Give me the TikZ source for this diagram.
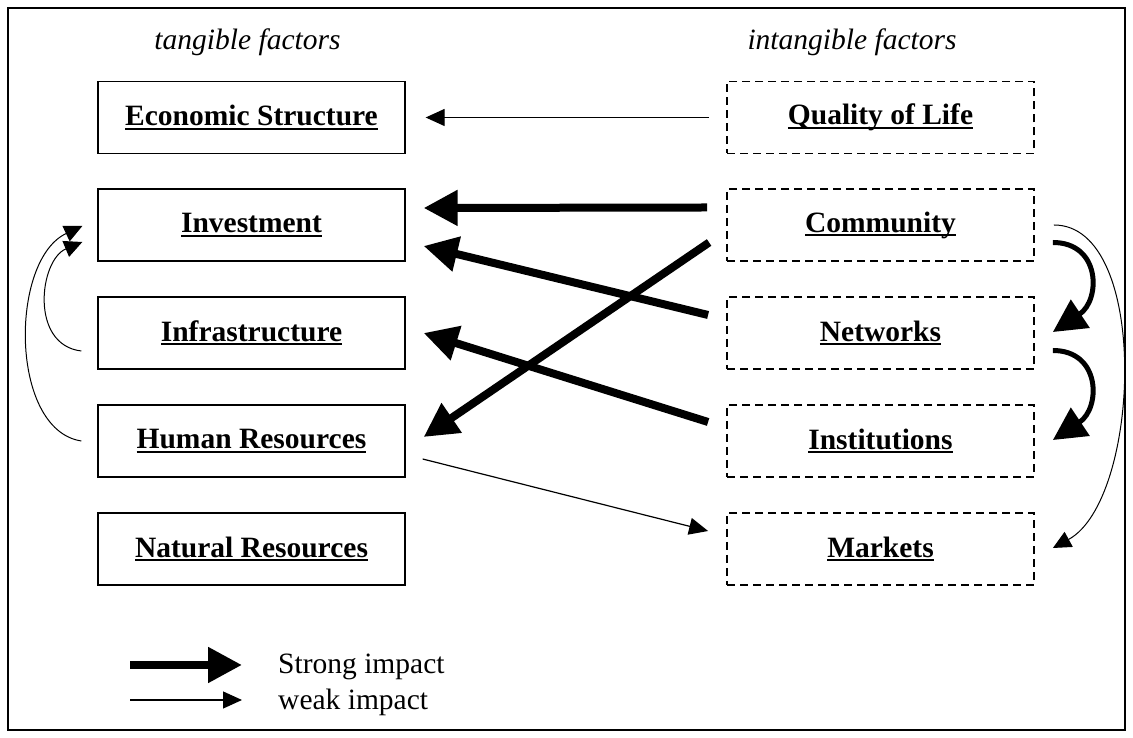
\documentclass[tikz,border=0pt]{standalone}
\usepackage{fontspec}
\setmainfont{Liberation Serif}
\usetikzlibrary{arrows.meta}
\newcommand{\ulbox}[1]{\setbox0\hbox{#1}\rlap{\rule[-4pt]{\wd0}{2pt}}\box0}

\begin{document}
\begin{tikzpicture}[x=1pt, y=1pt,
  font=\fontsize{29.5}{35}\selectfont,
  tanbox/.style={draw, line width=1.3pt, minimum width=307pt, minimum height=72pt,
    inner sep=0pt, font=\fontsize{29.5}{35}\selectfont\bfseries},
  intbox/.style={tanbox, line width=1.8pt, dash pattern=on 8pt off 5pt},
  strong/.style={line width=8pt, -{Triangle[length=34pt,width=34pt]}},
  weak/.style={line width=1.2pt, -{Triangle[length=19pt,width=17pt]}},
  strongbend/.style={line width=5pt, -{Triangle[length=33pt,width=33pt]}},
  weakbend/.style={line width=1pt, -{Triangle[length=18pt,width=17pt]}}]
  \useasboundingbox (0,0) rectangle (1133,738);
  \draw[line width=1.3pt] (8,8) rectangle (1125,730);

  % column heads
  \node[font=\fontsize{29.5}{35}\selectfont\itshape] (tanhead) at (247.5,696) {tangible factors};
  \node[font=\fontsize{29.5}{35}\selectfont\itshape] (inthead) at (852,696) {intangible factors};

  % tangible factors
  \node[tanbox] (econ)  at (251.5,620.5) {\ulbox{Economic Structure}};
  \node[tanbox] (inv)   at (251.5,513)   {\ulbox{Investment}};
  \node[tanbox] (infra) at (251.5,405)   {\ulbox{Infrastructure}};
  \node[tanbox] (hum)   at (251.5,297)   {\ulbox{Human Resources}};
  \node[tanbox] (nat)   at (251.5,189)   {\ulbox{Natural Resources}};

  % intangible factors
  \node[intbox] (qual) at (880.5,620.5) {\ulbox{Quality of Life}};
  \node[intbox] (comm) at (880.5,513)   {\ulbox{Community}};
  \node[intbox] (net)  at (880.5,405)   {\ulbox{Networks}};
  \node[intbox] (inst) at (880.5,297)   {\ulbox{Institutions}};
  \node[intbox] (mark) at (880.5,189)   {\ulbox{Markets}};

  % straight impacts
  \draw[weak] ([xshift=-17pt]qual.west) -- ([xshift=20pt]econ.east);
  \draw[strong] ([xshift=-19pt,yshift=17.5pt]comm.west) -- ([xshift=18pt,yshift=17pt]inv.east);
  \draw[strong] ([xshift=-18pt,yshift=18pt]net.west) -- ([xshift=18pt,yshift=-21pt]inv.east);
  \draw[strong] ([xshift=-18pt,yshift=19pt]inst.west) -- ([xshift=18pt]infra.east);
  \draw[strong] ([xshift=-17pt,yshift=-17.5pt]comm.west) -- ([xshift=18pt,yshift=4pt]hum.east);
  \draw[weak] ([xshift=17pt,yshift=-18pt]hum.east) -- ([xshift=-18pt,yshift=18pt]mark.west);

  % bent impacts, left side
  \draw[weakbend] ([xshift=-16pt,yshift=-18pt]infra.west) .. controls +(-52,6) and +(-43,-18) .. ([xshift=-15pt,yshift=-17pt]inv.west);
  \draw[weakbend] ([xshift=-16pt]hum.west) .. controls +(-72,11) and +(-73,-34) .. ([xshift=-15pt,yshift=-1pt]inv.west);

  % bent impacts, right side
  \draw[strongbend] ([xshift=18pt,yshift=-17.5pt]comm.east) .. controls +(48,0) and +(48,32) .. ([xshift=18pt,yshift=1pt]net.east);
  \draw[strongbend] ([xshift=18pt,yshift=-17.5pt]net.east) .. controls +(48,0) and +(48,32) .. ([xshift=18pt,yshift=1pt]inst.east);
  \draw[weakbend] ([xshift=19pt]comm.east) .. controls +(97,0) and +(88,48) .. ([xshift=18pt,yshift=1pt]mark.east);

  % legend
  \coordinate (lgsa) at (130,73);
  \coordinate (lgsb) at (242,73);
  \coordinate (lgwa) at (130,38);
  \coordinate (lgwb) at (242,38);
  \draw[strong] (lgsa) -- (lgsb);
  \draw[weak] (lgwa) -- (lgwb);
  \node[anchor=base west, inner sep=0pt] (strongtxt) at (278,64) {Strong impact};
  \node[anchor=base west, inner sep=0pt] (weaktxt) at (278,28) {weak impact};
\end{tikzpicture}
\end{document}
